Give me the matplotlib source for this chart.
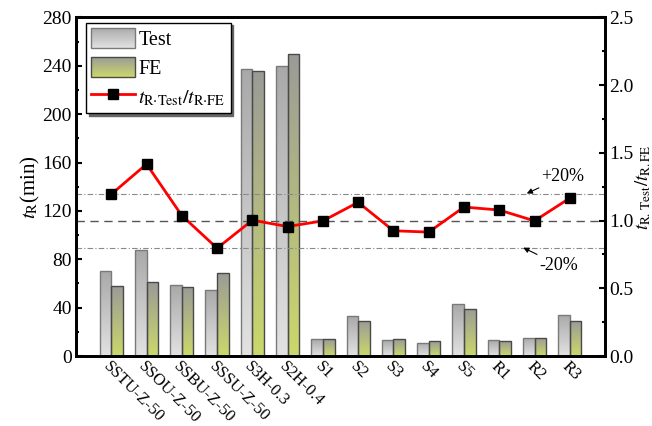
import numpy as np
import matplotlib
matplotlib.use("Agg")
import matplotlib.pyplot as plt
from matplotlib.legend_handler import HandlerBase
from matplotlib.patches import Rectangle
from matplotlib.ticker import MultipleLocator
import matplotlib.transforms as mtrans

plt.rcParams['font.family'] = ['Liberation Serif', 'DejaVu Serif']
plt.rcParams['mathtext.fontset'] = 'stix'

# data
specimens = ['SSTU-Z-50', 'SSOU-Z-50', 'SSBU-Z-50', 'SSSU-Z-50', 'S3H-0.3', 'S2H-0.4',
             'S1', 'S2', 'S3', 'S4', 'S5', 'R1', 'R2', 'R3']
t_test = [70, 88, 58.6, 55, 237.5, 240, 14, 33, 13, 11, 43, 13, 15, 34]
t_fe = [58, 61, 57, 69, 236, 250, 14, 29, 14, 12, 39, 12, 15, 29]
ratio = [1.195, 1.417, 1.037, 0.796, 1.003, 0.956, 0.998, 1.135, 0.925, 0.915,
         1.10, 1.078, 0.998, 1.166]

# gradient colours (top, bottom)
test_cols = ('#a9a9a9', '#e2e2e2')
fe_cols = ('#9b9b97', '#cbd86a')


def grad_img(top, bottom, n=64):
    c0 = np.array(matplotlib.colors.to_rgb(bottom))
    c1 = np.array(matplotlib.colors.to_rgb(top))
    t = np.linspace(0, 1, n)[:, None]
    return (c0 + (c1 - c0) * t).reshape(n, 1, 3)


class GradHandler(HandlerBase):
    def __init__(self, cols, edge):
        super().__init__()
        self.cols = cols
        self.edge = edge

    def create_artists(self, legend, orig_handle, xdescent, ydescent, width, height,
                       fontsize, trans):
        arts = []
        n = 30
        img = grad_img(*self.cols, n=n)
        h = height / n
        for i in range(n):
            r = Rectangle((-xdescent, -ydescent + i * h), width, h * 1.05,
                          facecolor=img[i, 0], edgecolor='none', transform=trans)
            arts.append(r)
        arts.append(Rectangle((-xdescent, -ydescent), width, height, facecolor='none',
                              edgecolor=self.edge, lw=1.0, transform=trans))
        return arts


fig = plt.figure(figsize=(6.52, 4.26), dpi=100)
ax = fig.add_axes([0.1166, 0.1643, 0.8114, 0.7947])
ax2 = ax.twinx()

x = np.arange(1, len(specimens) + 1)
w = 0.33
bars_t = ax.bar(x - w / 2, t_test, w, facecolor='none', edgecolor='#7a7a7a', lw=1.0, zorder=3)
bars_f = ax.bar(x + w / 2, t_fe, w, facecolor='none', edgecolor='#4a4a4a', lw=1.0, zorder=3)
for bars, cols in ((bars_t, test_cols), (bars_f, fe_cols)):
    for b in bars:
        x0, y0 = b.get_x(), b.get_y()
        im = ax.imshow(grad_img(*cols), extent=[x0, x0 + b.get_width(), y0, y0 + b.get_height()],
                       origin='lower', aspect='auto', zorder=2, interpolation='bilinear')
        im.set_clip_path(b)

ax.set_xlim(0, 15)
ax.set_ylim(0, 280)
ax.yaxis.set_major_locator(MultipleLocator(40))
ax.yaxis.set_minor_locator(MultipleLocator(20))
ax.set_xticks(x)
ax.set_xticklabels(specimens, rotation=-45, ha='left', va='top', rotation_mode='anchor', fontsize=12)
off = mtrans.ScaledTranslation(-0.08, -0.08, fig.dpi_scale_trans)
for lab in ax.get_xticklabels():
    lab.set_transform(lab.get_transform() + off)
ax.tick_params(axis='x', length=0, pad=2)
ax.tick_params(axis='y', which='major', direction='in', length=4, width=1.5, labelsize=14, pad=3)
ax.tick_params(axis='y', which='minor', direction='in', length=2.5, width=1.5)
ax.set_ylabel(r'$t_{\mathrm{R}}$(min)', fontsize=15, labelpad=0)

ax2.set_ylim(0, 2.5)
ax2.yaxis.set_major_locator(MultipleLocator(0.5))
ax2.yaxis.set_minor_locator(MultipleLocator(0.25))
ax2.yaxis.set_major_formatter(matplotlib.ticker.FormatStrFormatter('%.1f'))
ax2.tick_params(axis='y', which='major', direction='in', length=4, width=1.5, labelsize=14, pad=3)
ax2.tick_params(axis='y', which='minor', direction='in', length=2.5, width=1.5)
ax2.set_ylabel(r'$t_{\mathrm{R.\,Test}}/t_{\mathrm{R.FE}}$', fontsize=13.5, labelpad=0)

for a in (ax, ax2):
    for s in a.spines.values():
        s.set_linewidth(2)

ax2.axhline(1.2, color='#8a8a8a', lw=0.8, ls=(0, (5, 2, 1, 2)), zorder=1)
ax2.axhline(0.8, color='#8a8a8a', lw=0.8, ls=(0, (5, 2, 1, 2)), zorder=1)
ax2.axhline(1.0, color='#555555', lw=1.0, ls=(0, (6, 4)), zorder=1)

line, = ax2.plot(x, ratio, color='red', lw=2, marker='s', markersize=7,
                 markerfacecolor='black', markeredgecolor='black', zorder=5)

ax2.annotate('+20%', xy=(12.78, 1.2), xytext=(13.2, 1.325), fontsize=13, va='center',
             arrowprops=dict(arrowstyle='-|>', color='black', lw=0.8, mutation_scale=8,
                             shrinkA=0, shrinkB=0))
ax2.annotate('-20%', xy=(12.68, 0.8), xytext=(13.15, 0.67), fontsize=13, va='center',
             arrowprops=dict(arrowstyle='-|>', color='black', lw=0.8, mutation_scale=8,
                             shrinkA=0, shrinkB=0))

h_test = Rectangle((0, 0), 1, 1)
h_fe = Rectangle((0, 0), 1, 1)
leg = ax2.legend([h_test, h_fe, line],
                 ['Test', 'FE', r'$t_{\mathrm{R{\cdot}Test}}/t_{\mathrm{R{\cdot}FE}}$'],
                 handler_map={h_test: GradHandler(test_cols, '#7a7a7a'),
                              h_fe: GradHandler(fe_cols, '#4a4a4a')},
                 loc='upper left', bbox_to_anchor=(0.019, 0.985), borderaxespad=0,
                 fontsize=14.5, handlelength=2.2, handleheight=1.2, handletextpad=0.15,
                 labelspacing=0.35, borderpad=0.25, fancybox=False, framealpha=1,
                 edgecolor='black', shadow={'color': '#666666', 'alpha': 1})
leg.get_frame().set_linewidth(1.0)

fig.savefig('out.png', dpi=100)
